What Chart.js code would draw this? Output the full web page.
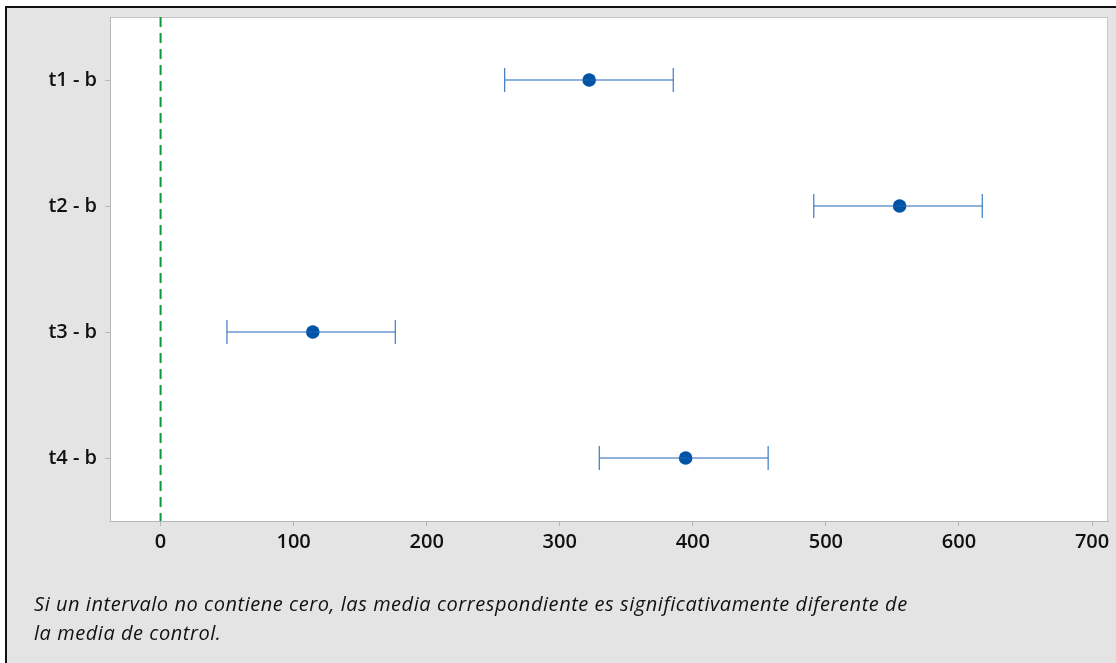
<!DOCTYPE html>
<html>
<head>
<meta charset="utf-8">
<script src="https://cdn.jsdelivr.net/npm/chart.js@4.4.1/dist/chart.umd.min.js"></script>
<style>
	body { margin: 0; background: #fff; width: 1116px; height: 663px; overflow: hidden; position: relative; }
	.frame {
		position: absolute; left: 5px; top: 6px; width: 1111px; height: 655px;
		background: #e4e4e4; border-left: 2px solid #111; border-top: 2px solid #111;
		border-bottom: 1px solid #c4c4c4;
	}
	#intervalChart { position: absolute; left: 0; top: 0; }
	.note {
		position: absolute; left: 34px; top: 590px;
		font-family: 'Open Sans', sans-serif; font-style: italic; font-size: 20px;
		letter-spacing: 0.55px; line-height: 28.5px; color: #111; white-space: nowrap;
	}
</style>
</head>
<body>
<div class="frame"></div>
<canvas id="intervalChart" width="1116" height="663"></canvas>
<div class="note">Si un intervalo no contiene cero, las media correspondiente es significativamente diferente de<br>la media de control.</div>
<script>
const categories = ['t1 - b', 't2 - b', 't3 - b', 't4 - b'];
const means = [322.1, 555.4, 114.4, 394.6];
const lowerLimits = [258.6, 490.9, 49.9, 329.7];
const upperLimits = [385.3, 617.5, 176.4, 456.6];
const xTickValues = [0, 100, 200, 300, 400, 500, 600, 700];

const blue = '#1f66b8';
const darkBlue = '#0054a6';
const axisGray = '#b6b6b6';
const tickFont = { family: 'Open Sans', size: 20, weight: '600' };

// white plot area with a thin frame, like the original
const plotFrame = {
	id: 'plotFrame',
	beforeDraw(chart) {
		const { ctx, chartArea: a } = chart;
		ctx.save();
		ctx.fillStyle = '#fff';
		ctx.fillRect(a.left, a.top, a.right - a.left, a.bottom - a.top);
		ctx.strokeStyle = '#c6c6c6';
		ctx.lineWidth = 1;
		ctx.strokeRect(a.left + 0.5, a.top + 0.5, a.right - a.left - 1, a.bottom - a.top);
		ctx.restore();
	},
};

const intervalSets = categories.map((c, i) => ({
	data: [
		{ x: lowerLimits[i], y: i + 1 },
		{ x: upperLimits[i], y: i + 1 },
	],
	showLine: true,
	borderColor: blue,
	borderWidth: 1.2,
	pointStyle: 'line',
	rotation: 90,
	pointRadius: 12,
	pointBorderColor: '#3a7bc4',
	pointBorderWidth: 1.2,
}));

const meanSet = {
	data: means.map((m, i) => ({ x: m, y: i + 1 })),
	pointStyle: 'circle',
	pointRadius: 6.8,
	backgroundColor: darkBlue,
	borderColor: darkBlue,
	pointBorderWidth: 0,
};

const zeroSet = {
	data: [
		{ x: 0, y: 0.5 },
		{ x: 0, y: 4.5 },
	],
	showLine: true,
	borderColor: '#13923b',
	borderWidth: 2,
	borderDash: [10, 6],
	pointRadius: 0,
};

new Chart(document.getElementById('intervalChart').getContext('2d'), {
	type: 'scatter',
	data: { datasets: [zeroSet, ...intervalSets, meanSet] },
	plugins: [plotFrame],
	options: {
		responsive: false,
		animation: false,
		events: [],
		layout: { autoPadding: false, padding: { left: 0, top: 17, right: 8, bottom: 101 } },
		plugins: { legend: { display: false }, tooltip: { enabled: false } },
		scales: {
			x: {
				type: 'linear',
				min: -38,
				max: 712,
				afterBuildTicks: (axis) => {
					axis.ticks = xTickValues.map((v) => ({ value: v }));
				},
				afterFit: (scale) => {
					scale.height = 41;
					scale.paddingLeft = 0;
					scale.paddingRight = 0;
				},
				grid: { drawOnChartArea: false, tickLength: 5, color: axisGray },
				border: { color: axisGray },
				ticks: { color: '#111', font: tickFont, padding: 4, maxRotation: 0 },
			},
			y: {
				type: 'linear',
				reverse: true,
				min: 0.5,
				max: 4.5,
				afterBuildTicks: (axis) => {
					axis.ticks = categories.map((c, i) => ({ value: i + 1 }));
				},
				afterFit: (scale) => {
					scale.width = 110;
					scale.paddingTop = 0;
					scale.paddingBottom = 0;
				},
				grid: { drawOnChartArea: false, tickLength: 5, color: axisGray },
				border: { color: axisGray },
				ticks: {
					color: '#111',
					font: tickFont,
					padding: 8,
					callback: (v) => categories[v - 1],
				},
			},
		},
	},
});
</script>
</body>
</html>
